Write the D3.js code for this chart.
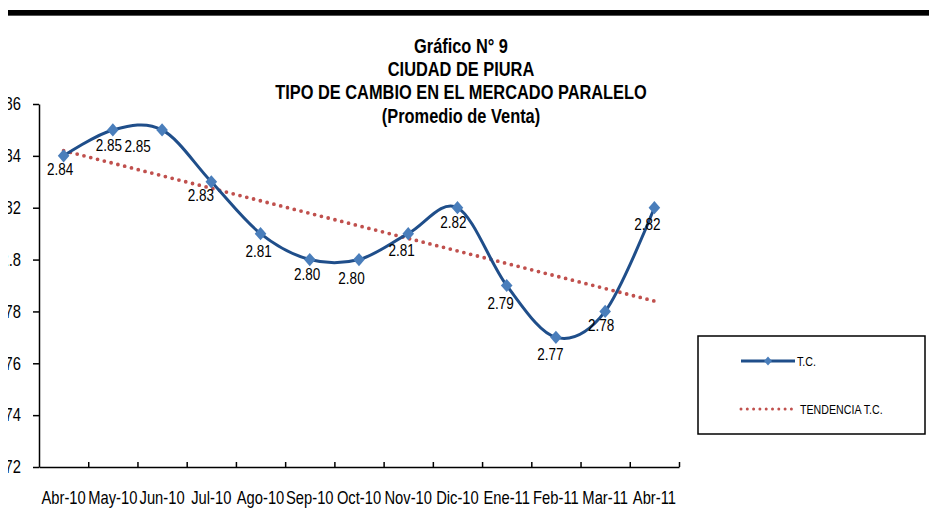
<!DOCTYPE html>
<html>
<head>
<meta charset="utf-8">
<script src="https://cdn.jsdelivr.net/npm/d3@7"></script>
<style>
  html, body { margin: 0; padding: 0; background: #ffffff; }
  svg { display: block; }
</style>
</head>
<body>
<svg id="chart" width="929" height="532"></svg>
<script>
// ---------------- DATA ----------------
const categories = ["Abr-10", "May-10", "Jun-10", "Jul-10", "Ago-10", "Sep-10", "Oct-10",
                    "Nov-10", "Dic-10", "Ene-11", "Feb-11", "Mar-11", "Abr-11"];
const tcValues = [2.84, 2.85, 2.85, 2.83, 2.81, 2.80, 2.80, 2.81, 2.82, 2.79, 2.77, 2.78, 2.82];
const tcLabels = ["2.84", "2.85", "2.85", "2.83", "2.81", "2.80", "2.80", "2.81", "2.82", "2.79", "2.77", "2.78", "2.82"];
// linear trend line (TENDENCIA T.C.) values at first and last category
const trendCategories = ["Abr-10", "Abr-11"];
const trendValues = [2.842, 2.784];
const yTickValues = [2.72, 2.74, 2.76, 2.78, 2.80, 2.82, 2.84, 2.86];
const yTickLabels = ["2.72", "2.74", "2.76", "2.78", "2.8", "2.82", "2.84", "2.86"];
const titleLines = ["Gráfico N° 9", "CIUDAD DE PIURA", "TIPO DE CAMBIO EN EL MERCADO PARALELO", "(Promedio de Venta)"];
const legendLabels = ["T.C.", "TENDENCIA T.C."];

// ---------------- LAYOUT ----------------
// data label nudges (dx, dy from the marker), layout only
const labelNudge = [[-3.5, 19], [-4, 21.5], [-24.5, 22], [-10.5, 19], [-2, 23], [-2.6, 20.7], [-7.5, 24],
                    [-6.5, 22.7], [-4, 20], [-6, 23.5], [-5.5, 22.5], [-4, 20], [-7, 22.7]];

const lineColor = "#1F4E8A";
const markerColor = "#4A7EBB";
const trendColor = "#C0504D";

// font detection: prefer a real narrow font, otherwise squeeze Liberation Sans
function hasFont(name) {
  const ctx = document.createElement("canvas").getContext("2d");
  const s = "TIPO DE CAMBIO mmmWWW 0123";
  ctx.font = "20px monospace";
  const a = ctx.measureText(s).width;
  ctx.font = `20px "${name}", monospace`;
  const b = ctx.measureText(s).width;
  return Math.abs(a - b) > 0.5;
}
let FONT, SX;
if (hasFont("Liberation Sans Narrow")) { FONT = '"Liberation Sans Narrow"'; SX = 1; }
else { FONT = '"Liberation Sans", Arial, sans-serif'; SX = 0.82; }

const svg = d3.select("#chart");

function addText(parent, x, y, str, opts = {}) {
  return parent.append("text")
    .attr("transform", `translate(${x},${y}) scale(${SX},1)`)
    .attr("text-anchor", opts.anchor || "middle")
    .style("font-family", FONT)
    .style("font-size", (opts.size || 16) + "px")
    .style("font-weight", opts.weight || "normal")
    .attr("fill", opts.fill || "#000")
    .text(str);
}

// top black rule
svg.append("rect").attr("x", 8).attr("y", 10).attr("width", 921).attr("height", 5).attr("fill", "#000");
svg.append("rect").attr("x", 8).attr("y", 15).attr("width", 921).attr("height", 1).attr("fill", "#555");

// title
const titleBaselines = [52.5, 75.5, 99, 122.5];
titleLines.forEach((t, i) => addText(svg, 461, titleBaselines[i], t, { size: 20, weight: "bold" }));

// scales
const x = d3.scaleBand().domain(categories).range([39, 679]).paddingInner(0).paddingOuter(0);
const cx = c => x(c) + x.bandwidth() / 2;
const y = d3.scaleLinear().domain([2.72, 2.86]).range([467, 104]);

// clip for y tick labels (reference is cut at the left)
svg.append("defs").append("clipPath").attr("id", "yclip")
  .append("rect").attr("x", 8).attr("y", 80).attr("width", 60).attr("height", 420);

// y axis
const yLabelsClip = svg.append("g").attr("clip-path", "url(#yclip)");
const yAxisG = yLabelsClip.append("g").attr("transform", "translate(39,0)");
yAxisG.call(d3.axisLeft(y).tickValues(yTickValues)
  .tickFormat((d, i) => yTickLabels[i]).tickSize(6).tickSizeOuter(0).tickPadding(12));
yAxisG.select(".domain").attr("stroke", "#000").attr("stroke-width", 1.5);
yAxisG.selectAll(".tick line").attr("stroke", "#000").attr("stroke-width", 1.5);
yAxisG.selectAll(".tick text").each(function () {
  const t = d3.select(this);
  const xx = +t.attr("x");
  t.attr("x", xx / SX).attr("transform", `scale(${SX},1)`);
}).style("font-family", FONT).style("font-size", "18px").attr("fill", "#000");

// x axis: labels at band centers
const xAxisG = svg.append("g").attr("transform", "translate(0,467)");
xAxisG.call(d3.axisBottom(x).tickSize(0).tickSizeOuter(0).tickPadding(24));
xAxisG.select(".domain").attr("stroke", "#000").attr("stroke-width", 1.5);
xAxisG.selectAll(".tick text").attr("transform", `scale(${SX},1)`)
  .style("font-family", FONT).style("font-size", "18px").attr("fill", "#000");
// boundary tick marks (pointing up into the plot)
const edgeScale = d3.scaleLinear().domain([0, categories.length]).range([39, 679]);
const xEdgeG = svg.append("g").attr("transform", "translate(0,467)");
xEdgeG.call(d3.axisBottom(edgeScale).tickValues(d3.range(1, categories.length + 1))
  .tickSize(-5).tickSizeOuter(0).tickFormat(""));
xEdgeG.select(".domain").remove();
xEdgeG.selectAll(".tick line").attr("stroke", "#000").attr("stroke-width", 1.5);

// trend line (dotted red)
const trendLine = d3.line().x(d => cx(d.c)).y(d => y(d.v));
svg.append("path")
  .datum(trendCategories.map((c, i) => ({ c, v: trendValues[i] })))
  .attr("d", trendLine)
  .attr("fill", "none").attr("stroke", trendColor).attr("stroke-width", 3.8)
  .attr("stroke-linecap", "round").attr("stroke-dasharray", "0,7");

// T.C. smooth line
const data = categories.map((c, i) => ({ c, v: tcValues[i], label: tcLabels[i], nudge: labelNudge[i] }));
const tcLine = d3.line().x(d => cx(d.c)).y(d => y(d.v)).curve(d3.curveCardinal.tension(0));
svg.append("path").datum(data).attr("d", tcLine)
  .attr("fill", "none").attr("stroke", lineColor).attr("stroke-width", 3);

// diamond markers
const diamond = (r) => `M0,${-r}L${r * 0.88},0L0,${r}L${-r * 0.88},0Z`;
svg.append("g").selectAll("path").data(data).join("path")
  .attr("transform", d => `translate(${cx(d.c)},${y(d.v)})`)
  .attr("d", diamond(6.6))
  .attr("fill", markerColor);

// data labels
const lblG = svg.append("g");
data.forEach(d => addText(lblG, cx(d.c) + d.nudge[0], y(d.v) + d.nudge[1], d.label, { size: 16.5 }));

// legend
const lg = svg.append("g");
lg.append("rect").attr("x", 698).attr("y", 336).attr("width", 227).attr("height", 98)
  .attr("fill", "#fff").attr("stroke", "#000").attr("stroke-width", 1.5);
lg.append("line").attr("x1", 741).attr("x2", 795).attr("y1", 361).attr("y2", 361)
  .attr("stroke", lineColor).attr("stroke-width", 3);
lg.append("path").attr("transform", "translate(768,361)").attr("d", diamond(4.5)).attr("fill", markerColor);
addText(lg, 797, 365.5, legendLabels[0], { size: 13, anchor: "start" });
lg.append("line").attr("x1", 741).attr("x2", 792).attr("y1", 409).attr("y2", 409)
  .attr("stroke", trendColor).attr("stroke-width", 3)
  .attr("stroke-linecap", "round").attr("stroke-dasharray", "0,6.3");
addText(lg, 800, 414, legendLabels[1], { size: 13, anchor: "start" });
</script>
</body>
</html>
